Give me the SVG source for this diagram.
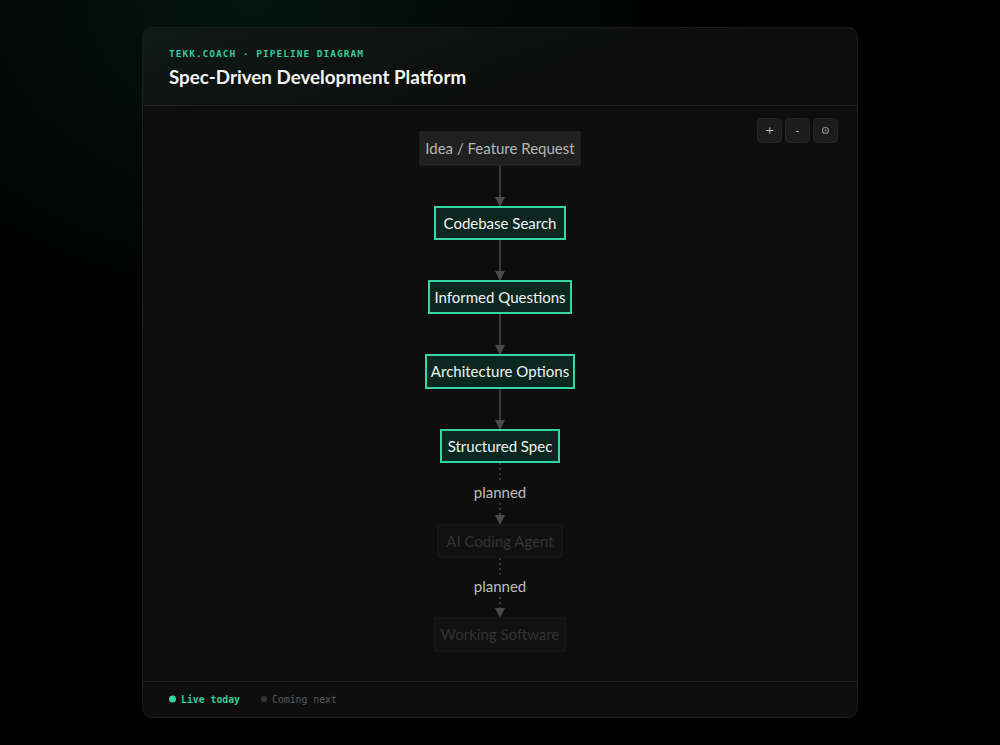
<svg xmlns="http://www.w3.org/2000/svg" width="1000" height="745" viewBox="0 0 1000 745">
<defs>
<linearGradient id="hdr" x1="0" y1="0" x2="1" y2="0.3">
<stop offset="0" stop-color="#0f1a16"/>
<stop offset="0.6" stop-color="#0e0f0f"/>
<stop offset="1" stop-color="#0e0e0e"/>
</linearGradient>
<radialGradient id="bgglow" cx="0.25" cy="0" r="0.45">
<stop offset="0" stop-color="#051510"/>
<stop offset="1" stop-color="#000000"/>
</radialGradient>
<marker id="arr" viewBox="0 0 10 10" refX="9" refY="5" markerWidth="10" markerHeight="10" markerUnits="userSpaceOnUse" orient="auto">
<path d="M0,0 L10,5 L0,10 z" fill="#4a4a4a"/>
</marker>
<clipPath id="cardclip"><rect x="142" y="27" width="716" height="691" rx="10"/></clipPath>
</defs>
<style>
.node rect{stroke-width:2}
.live rect{fill:#0c2720;stroke:#36d6a4}
.live text{fill:#f2f2f2}
.src rect{fill:#202020;stroke:#262626;stroke-width:1}
.src text{fill:#b5b5b5}
.next rect{fill:#111111;stroke:#1a1a1a;stroke-width:1}
.next text{fill:#333333}
.node text{font-family:Lato,"Noto Sans",sans-serif;font-size:15px;text-anchor:middle}
.edge{stroke:#4a4a4a;stroke-width:1.5;fill:none}
.dot{stroke-dasharray:2 3}
.elabel{font-family:Lato,"Noto Sans",sans-serif;font-size:15px;fill:#bdbdbd;text-anchor:middle}
.btn rect{fill:#1c1c1c;stroke:#262626}
.btn text{font-family:"DejaVu Sans",sans-serif;font-size:11px;fill:#bbbbbb;text-anchor:middle}
.mono{font-family:"DejaVu Sans Mono","Liberation Mono",monospace;font-weight:bold}
</style>
<rect width="1000" height="745" fill="url(#bgglow)"/>
<g id="card">
<rect x="142" y="27" width="716" height="691" rx="10" fill="#0e0e0e"/>
<g clip-path="url(#cardclip)">
<rect x="142" y="27" width="716" height="78" fill="url(#hdr)"/>
</g>
<rect x="142.5" y="27.5" width="715" height="690" rx="10" fill="none" stroke="#1c1c1c"/>
<line x1="142" y1="105.5" x2="858" y2="105.5" stroke="#1f1f1f"/>
<line x1="142" y1="681.5" x2="858" y2="681.5" stroke="#1f1f1f"/>
</g>
<g id="header">
<text x="169" y="57" class="mono" font-size="9.5" fill="#35c997" letter-spacing="1">TEKK.COACH · PIPELINE DIAGRAM</text>
<text x="169" y="84" font-family="Lato,'Noto Sans',sans-serif" font-weight="bold" font-size="18.8" fill="#f4f4f4">Spec-Driven Development Platform</text>
</g>
<g id="controls">
<g class="btn"><rect x="757.5" y="118.5" width="24" height="24" rx="4"/><text x="769.5" y="134">+</text></g>
<g class="btn"><rect x="785.5" y="118.5" width="24" height="24" rx="4"/><text x="797.5" y="134">-</text></g>
<g class="btn"><rect x="813.5" y="118.5" width="24" height="24" rx="4"/><circle cx="825.5" cy="130.5" r="3" fill="none" stroke="#888" stroke-width="1.2"/><circle cx="825.5" cy="130.5" r="1" fill="#888"/></g>
</g>
<g id="connectors">
<line class="edge" x1="500" y1="165" x2="500" y2="206" marker-end="url(#arr)"/>
<line class="edge" x1="500" y1="240" x2="500" y2="280" marker-end="url(#arr)"/>
<line class="edge" x1="500" y1="314" x2="500" y2="354" marker-end="url(#arr)"/>
<line class="edge" x1="500" y1="389" x2="500" y2="429" marker-end="url(#arr)"/>
<line class="edge dot" x1="500" y1="463" x2="500" y2="482"/>
<line class="edge dot" x1="500" y1="503" x2="500" y2="524" marker-end="url(#arr)"/>
<text class="elabel" x="500" y="498">planned</text>
<line class="edge dot" x1="500" y1="558" x2="500" y2="576"/>
<line class="edge dot" x1="500" y1="597" x2="500" y2="617" marker-end="url(#arr)"/>
<text class="elabel" x="500" y="592">planned</text>
</g>
<g id="n-idea" class="node src"><rect x="420" y="132" width="160" height="33"/><text x="500" y="154">Idea / Feature Request</text></g>
<g id="n-search" class="node live"><rect x="435" y="207" width="130" height="32"/><text x="500" y="228.5">Codebase Search</text></g>
<g id="n-questions" class="node live"><rect x="429" y="281" width="142" height="32"/><text x="500" y="302.5">Informed Questions</text></g>
<g id="n-arch" class="node live"><rect x="426" y="355" width="148" height="33"/><text x="500" y="377">Architecture Options</text></g>
<g id="n-spec" class="node live"><rect x="441" y="430" width="118" height="32"/><text x="500" y="451.5">Structured Spec</text></g>
<g id="n-agent" class="node next"><rect x="438" y="525" width="124" height="32"/><text x="500" y="546.5">AI Coding Agent</text></g>
<g id="n-software" class="node next"><rect x="435" y="618" width="130" height="33"/><text x="500" y="640">Working Software</text></g>
<g id="legend">
<circle cx="172.5" cy="699" r="3.5" fill="#36d6a4"/>
<text x="181" y="703" class="mono" font-size="9.8" fill="#35c997">Live today</text>
<circle cx="264" cy="699" r="3" fill="#333"/>
<text x="272" y="703" font-family="'DejaVu Sans Mono','Liberation Mono',monospace" font-size="9.8" fill="#5a5a5a">Coming next</text>
</g>
</svg>
